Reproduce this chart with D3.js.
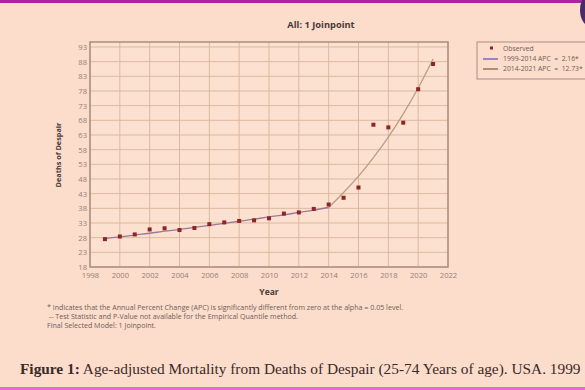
<!DOCTYPE html>
<html>
<head>
<meta charset="utf-8">
<script src="https://cdn.jsdelivr.net/npm/d3@7"></script>
<style>
  html, body { margin: 0; padding: 0; background: #fcdccb; }
  svg { display: block; }
</style>
</head>
<body>
<div id="chart"></div>
<script>
// observed rates
const years = [1999, 2000, 2001, 2002, 2003, 2004, 2005, 2006, 2007, 2008, 2009, 2010,
               2011, 2012, 2013, 2014, 2015, 2016, 2017, 2018, 2019, 2020, 2021];
const observed = [27.5, 28.4, 29.1, 30.8, 31.2, 30.6, 31.3, 32.6, 33.2, 33.7, 33.9, 34.6,
                  36.2, 36.6, 37.8, 39.3, 41.6, 45.1, 66.5, 65.6, 67.2, 78.6, 87.2];

// fitted joinpoint segments
const fitYears1 = [1999, 2000, 2001, 2002, 2003, 2004, 2005, 2006, 2007, 2008, 2009, 2010, 2011, 2012, 2013, 2014];
const fitValues1 = [27.7, 28.3, 28.9, 29.5, 30.2, 30.8, 31.5, 32.2, 32.9, 33.6, 34.3, 35.1, 35.8, 36.6, 37.4, 38.3];
const fitYears2 = [2014, 2015, 2016, 2017, 2018, 2019, 2020, 2021];
const fitValues2 = [38.3, 43.4, 49.0, 55.3, 62.3, 70.2, 79.0, 88.9];

const xTicks = [1998, 2000, 2002, 2004, 2006, 2008, 2010, 2012, 2014, 2016, 2018, 2020, 2022];
const yTicks = [18, 23, 28, 33, 38, 43, 48, 53, 58, 63, 68, 73, 78, 83, 88, 93];

const legendLabels = ["Observed", "1999-2014 APC  =  2.16*", "2014-2021 APC  =  12.73*"];
const footnotes = [
  "* Indicates that the Annual Percent Change (APC) is significantly different from zero at the alpha = 0.05 level.",
  " -- Test Statistic and P-Value not available for the Empirical Quantile method.",
  "Final Selected Model: 1 Joinpoint."
];

const W = 585, H = 390;
const plotL = 90, plotR = 448, plotT = 42, plotB = 267;
const sans = "'Open Sans', 'DejaVu Sans', sans-serif";

const svg = d3.select('#chart').append('svg')
  .attr('width', W)
  .attr('height', H);

svg.append('rect').attr('width', W).attr('height', H).attr('fill', '#fcdccb');

// magenta stripes from the screen capture
svg.append('rect').attr('x', 0).attr('y', 0).attr('width', W).attr('height', 3).attr('fill', '#a8259e');
svg.append('rect').attr('x', 0).attr('y', 387).attr('width', W).attr('height', 3).attr('fill', '#e866d8');
svg.append('ellipse').attr('cx', 590).attr('cy', 10).attr('rx', 10).attr('ry', 16).attr('fill', '#4a2a6a');

const x = d3.scaleLinear().domain([1998, 2022]).range([plotL, plotR]);
const y = d3.scaleLinear().domain([18, 94.7]).range([plotB, plotT]);

// plot background
svg.append('rect')
  .attr('x', plotL).attr('y', plotT)
  .attr('width', plotR - plotL).attr('height', plotB - plotT)
  .attr('fill', '#fde1d0');

// grid
svg.append('g')
  .selectAll('line')
  .data(xTicks)
  .join('line')
  .attr('x1', d => x(d)).attr('x2', d => x(d))
  .attr('y1', plotT).attr('y2', plotB)
  .attr('stroke', '#dcb8a0').attr('stroke-width', 1);

svg.append('g')
  .selectAll('line')
  .data(yTicks)
  .join('line')
  .attr('x1', plotL).attr('x2', plotR)
  .attr('y1', d => y(d)).attr('y2', d => y(d))
  .attr('stroke', '#dcb8a0').attr('stroke-width', 1);

// axes
const xAxis = svg.append('g')
  .attr('transform', `translate(0,${plotB})`)
  .call(d3.axisBottom(x).tickValues(xTicks).tickFormat(d3.format('d')).tickSize(0).tickPadding(6));
const yAxis = svg.append('g')
  .attr('transform', `translate(${plotL},0)`)
  .call(d3.axisLeft(y).tickValues(yTicks).tickSize(0).tickPadding(3));
[xAxis, yAxis].forEach(g => {
  g.select('.domain').remove();
  g.selectAll('text').attr('fill', '#94827a').attr('font-family', sans).attr('font-size', 7.6);
});

// frame
svg.append('rect')
  .attr('x', plotL).attr('y', plotT)
  .attr('width', plotR - plotL).attr('height', plotB - plotT)
  .attr('fill', 'none').attr('stroke', '#a88e80').attr('stroke-width', 1.5);

// fitted lines
const fitLine = d3.line().x(d => x(d[0])).y(d => y(d[1])).curve(d3.curveMonotoneX);
svg.append('path')
  .datum(fitYears1.map((yr, i) => [yr, fitValues1[i]]))
  .attr('d', fitLine)
  .attr('fill', 'none').attr('stroke', '#9a7a9a').attr('stroke-width', 1.3);
svg.append('path')
  .datum(fitYears2.map((yr, i) => [yr, fitValues2[i]]))
  .attr('d', fitLine)
  .attr('fill', 'none').attr('stroke', '#b89e82').attr('stroke-width', 1.3);

// observed points
svg.append('g')
  .selectAll('rect')
  .data(years.map((yr, i) => [yr, observed[i]]))
  .join('rect')
  .attr('x', d => x(d[0]) - 2).attr('y', d => y(d[1]) - 2)
  .attr('width', 4).attr('height', 4)
  .attr('fill', '#8e2424');

// title and axis titles
svg.append('text')
  .attr('x', 321).attr('y', 28)
  .attr('text-anchor', 'middle')
  .attr('font-family', sans).attr('font-weight', 'bold').attr('font-size', 9.3)
  .attr('fill', '#4a3a36')
  .text('All: 1 Joinpoint');

svg.append('text')
  .attr('transform', 'translate(61,155) rotate(-90)')
  .attr('text-anchor', 'middle')
  .attr('font-family', sans).attr('font-weight', 'bold').attr('font-size', 7.3)
  .attr('fill', '#4a3a36')
  .text('Deaths of Despair');

svg.append('text')
  .attr('x', 269).attr('y', 295)
  .attr('text-anchor', 'middle')
  .attr('font-family', sans).attr('font-weight', 'bold').attr('font-size', 8.5)
  .attr('fill', '#4a3a36')
  .text('Year');

// footnotes
svg.append('g')
  .selectAll('text')
  .data(footnotes)
  .join('text')
  .attr('x', 47).attr('y', (d, i) => 310 + i * 9)
  .attr('font-family', sans).attr('font-size', 7.1)
  .attr('fill', '#6e5e58')
  .attr('xml:space', 'preserve')
  .text(d => d);

// legend
const lg = svg.append('g');
lg.append('rect')
  .attr('x', 477).attr('y', 42).attr('width', 120).attr('height', 37)
  .attr('fill', 'none').attr('stroke', '#a88e80').attr('stroke-width', 1);
lg.append('rect').attr('x', 490).attr('y', 46.5).attr('width', 3).attr('height', 3).attr('fill', '#8e2424');
lg.append('line').attr('x1', 483).attr('x2', 498).attr('y1', 59).attr('y2', 59)
  .attr('stroke', '#7a68b8').attr('stroke-width', 1.5);
lg.append('line').attr('x1', 483).attr('x2', 498).attr('y1', 69).attr('y2', 69)
  .attr('stroke', '#8a7a58').attr('stroke-width', 1.5);
lg.selectAll('text.lab')
  .data(legendLabels)
  .join('text')
  .attr('class', 'lab')
  .attr('x', 503).attr('y', (d, i) => 50.5 + i * 10)
  .attr('font-family', sans).attr('font-size', 6.8)
  .attr('fill', '#6e5e58')
  .attr('xml:space', 'preserve')
  .text(d => d);

// figure caption
const cap = svg.append('text')
  .attr('x', 20).attr('y', 374)
  .attr('font-family', "'Liberation Serif', 'DejaVu Serif', serif")
  .attr('font-size', 15.35)
  .attr('fill', '#3a2a28');
cap.append('tspan').attr('font-weight', 'bold').text('Figure 1:');
cap.append('tspan').text(' Age-adjusted Mortality from Deaths of Despair (25-74 Years of age). USA. 1999');
</script>
</body>
</html>
